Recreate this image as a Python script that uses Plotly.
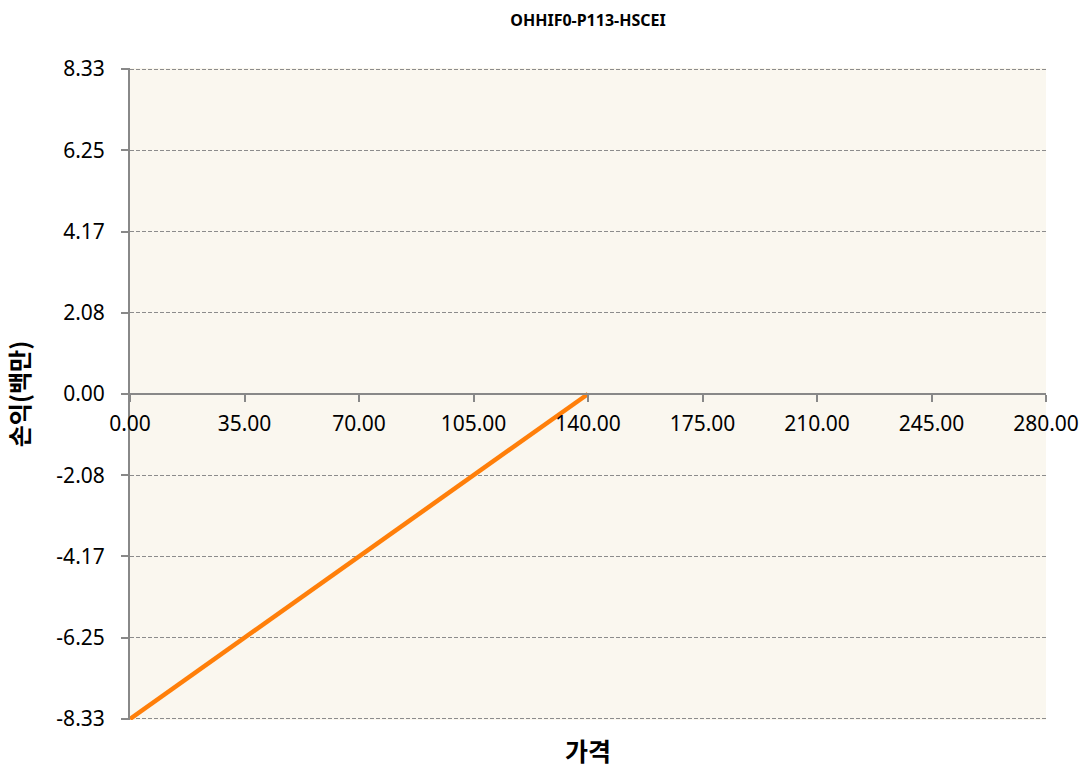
import plotly.graph_objects as go

title_text = "OHHIF0-P113-HSCEI"
x_title = "가격"
y_title = "손익(백만)"

price = [0.0, 140.0]
pnl = [-8.333, 0.0]

x_ticks = [0, 35, 70, 105, 140, 175, 210, 245, 280]
x_ticktext = ["0.00", "35.00", "70.00", "105.00", "140.00", "175.00", "210.00", "245.00", "280.00"]
y_ticks = [-8.333, -6.25, -4.1667, -2.0833, 0.0, 2.0833, 4.1667, 6.25, 8.333]
y_ticktext = ["-8.33", "-6.25", "-4.17", "-2.08", "0.00", "2.08", "4.17", "6.25", "8.33"]

FONT = "Noto Sans, Noto Sans CJK KR, sans-serif"
KFONT = "Noto Sans CJK KR, Noto Sans, sans-serif"

fig = go.Figure()
fig.add_trace(go.Scatter(x=price, y=pnl, mode="lines",
                         line=dict(color="#FF7F0A", width=4.5),
                         showlegend=False, hoverinfo="skip"))

fig.update_layout(
    width=1090, height=767,
    margin=dict(l=130, r=44, t=68, b=47),
    paper_bgcolor="white",
    plot_bgcolor="#FAF7EF",
    title=dict(text="<b>" + title_text + "</b>", x=588 / 1090, xanchor="center",
               y=1 - 20 / 767, yanchor="middle",
               font=dict(family=FONT, size=16, color="black")),
    font=dict(family=FONT, size=21, color="black"),
    xaxis=dict(range=[0, 280], tickvals=x_ticks, ticktext=x_ticktext,
               showgrid=False, zeroline=False,
               showline=True, linecolor="#888888", linewidth=2,
               ticks="outside", ticklen=7, tickcolor="#888888", tickwidth=1.5,
               anchor="free", position=0.5,
               tickfont=dict(family=FONT, size=21),
               ticklabelstandoff=4),
    yaxis=dict(range=[-8.36, 8.36], tickvals=y_ticks, ticktext=y_ticktext,
               showgrid=True, gridcolor="#8C8C8C", griddash="4px,2px", gridwidth=1,
               zeroline=False,
               showline=True, linecolor="#888888", linewidth=2,
               ticks="outside", ticklen=7, tickcolor="#888888", tickwidth=1.5,
               tickfont=dict(family=FONT, size=21),
               ticklabelstandoff=12,
               title=dict(text="<b>" + y_title + "</b>", standoff=20,
                          font=dict(family=KFONT, size=24))),
)

fig.add_annotation(text="<b>" + x_title + "</b>", xref="paper", yref="paper",
                   x=0.5, y=-30 / 652, yanchor="middle", showarrow=False,
                   font=dict(family=KFONT, size=25, color="black"))

fig.write_html("out.html", config={"displayModeBar": False},
               post_script="document.body.style.margin='0';")
